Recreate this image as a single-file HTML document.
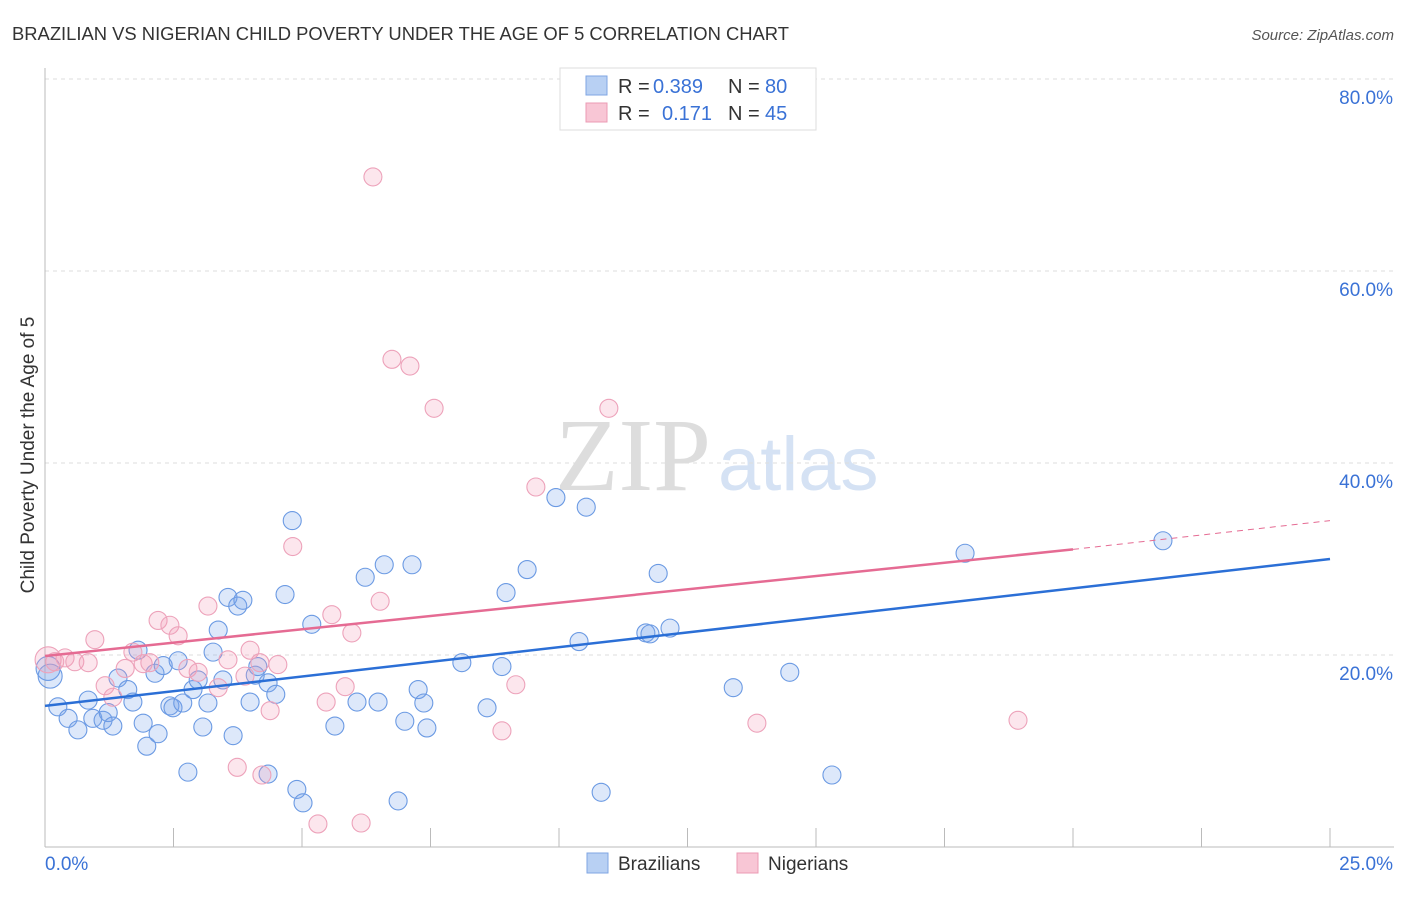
<!DOCTYPE html>
<html><head><meta charset="utf-8"><style>
body{margin:0;background:#fff;font-family:"Liberation Sans",sans-serif}
svg text{font-family:"Liberation Sans",sans-serif}
</style></head><body>
<svg id="chart" width="1406" height="892">
<text x="12" y="40" font-size="18.4" fill="#333">BRAZILIAN VS NIGERIAN CHILD POVERTY UNDER THE AGE OF 5 CORRELATION CHART</text>
<text x="1394" y="40" font-size="15" fill="#555" font-style="italic" text-anchor="end">Source: ZipAtlas.com</text>
<text x="555" y="490" font-size="104" fill="#ddd" font-family="Liberation Serif" style="font-family:'Liberation Serif',serif">ZIP</text>
<text x="718" y="490" font-size="76" fill="#d5e2f4">atlas</text>
<g id="grid"></g><g id="axes"></g><g id="pts"></g><g id="lines"></g>
<text transform="translate(34,455) rotate(-90)" font-size="19" fill="#333" text-anchor="middle">Child Poverty Under the Age of 5</text>
<g>
<rect x="560" y="68" width="256" height="62" fill="#fff" stroke="#ddd"/>
<rect x="586" y="76" width="21" height="19" fill="#b8d0f3" stroke="#7fa6e3"/>
<rect x="586" y="103" width="21" height="19" fill="#f8c6d5" stroke="#eb9bb4"/>
<text x="618" y="93" font-size="20" fill="#333">R =</text>
<text x="653" y="93" font-size="20" fill="#3a72d6">0.389</text>
<text x="728" y="93" font-size="20" fill="#333">N =</text>
<text x="765" y="93" font-size="20" fill="#3a72d6">80</text>
<text x="618" y="120" font-size="20" fill="#333">R =</text>
<text x="662" y="120" font-size="20" fill="#3a72d6">0.171</text>
<text x="728" y="120" font-size="20" fill="#333">N =</text>
<text x="765" y="120" font-size="20" fill="#3a72d6">45</text>
</g>
<g>
<rect x="587" y="853" width="21" height="20" fill="#b8d0f3" stroke="#7fa6e3"/>
<text x="618" y="870" font-size="19" fill="#333">Brazilians</text>
<rect x="737" y="853" width="21" height="20" fill="#f8c6d5" stroke="#eb9bb4"/>
<text x="768" y="870" font-size="19" fill="#333">Nigerians</text>
</g>
</svg>
<script>
const blueX=[0.06,0.1,0.25,0.45,0.64,0.84,0.93,1.13,1.23,1.32,1.42,1.61,1.71,1.81,1.91,1.98,2.14,2.2,2.3,2.43,2.49,2.59,2.68,2.78,2.88,2.98,3.07,3.17,3.27,3.37,3.46,3.66,3.56,3.75,3.85,3.99,4.09,4.14,4.34,4.34,4.49,4.67,4.81,4.9,5.02,5.19,5.64,6.07,6.23,6.48,6.6,6.87,7.0,7.14,7.26,7.37,7.43,8.11,8.6,8.89,8.97,9.38,9.94,10.39,10.53,10.82,11.69,11.77,11.93,12.16,13.39,14.49,15.31,17.9,21.75];
const blueY=[18.6,17.8,14.6,13.4,12.2,15.3,13.4,13.2,14.0,12.6,17.6,16.4,15.1,20.5,12.9,10.5,18.1,11.8,18.9,14.7,14.5,19.4,15.0,7.8,16.4,17.4,12.5,15.0,20.3,22.6,17.4,11.6,26.0,25.1,25.7,15.1,17.9,18.8,17.1,7.6,15.9,26.3,34.0,6.0,4.6,23.2,12.6,15.1,28.1,15.1,29.4,4.8,13.1,29.4,16.4,15.0,12.4,19.2,14.5,18.8,26.5,28.9,36.4,21.4,35.4,5.7,22.3,22.2,28.5,22.8,16.6,18.2,7.5,30.6,31.9];
const pinkX=[0.06,0.19,0.39,0.58,0.84,0.97,1.17,1.32,1.56,1.71,1.91,2.04,2.2,2.43,2.59,2.78,2.98,3.17,3.37,3.56,3.89,3.99,4.18,4.38,4.53,4.22,3.74,4.82,5.31,5.47,5.58,5.84,5.97,6.15,6.38,6.52,6.75,7.1,7.57,8.89,9.16,9.55,10.97,13.85,18.93];
const pinkY=[19.5,19.3,19.7,19.3,19.2,21.6,16.8,15.6,18.6,20.3,19.1,19.2,23.6,23.1,22.0,18.6,18.2,25.1,16.6,19.5,17.8,20.5,19.2,14.2,19.0,7.5,8.3,31.3,2.4,15.1,24.2,16.7,22.3,2.5,69.8,25.6,50.8,50.1,45.7,12.1,16.9,37.5,45.7,12.9,13.2];
const blueLine=[14.7,30.0];
const pinkLine=[19.9,31.0,34.0];
const yTicks=[20,40,60,80];
const xTicks=[0,2.5,5,7.5,10,12.5,15,17.5,20,22.5,25];
const NS="http://www.w3.org/2000/svg";
const X=v=>45+v/25*1285, Y=v=>847-v/20*192;
function mk(tag,attrs,parent){const e=document.createElementNS(NS,tag);for(const k in attrs)e.setAttribute(k,attrs[k]);document.getElementById(parent).appendChild(e);return e;}
yTicks.forEach(t=>{
 const l=mk('line',{x1:45,x2:1394,y1:Y(t),y2:Y(t),stroke:'#ddd','stroke-dasharray':'4,4'},'grid');
 
 
 const tx=mk('text',{x:1393,y:Y(t)+25,'font-size':19,fill:'#3a72d6','text-anchor':'end'},'grid');tx.textContent=t.toFixed(1)+'%';
 
 
});
mk('line',{x1:45,x2:45,y1:68,y2:847,stroke:'#bbb'},'axes');
mk('line',{x1:45,x2:1394,y1:847,y2:847,stroke:'#bbb'},'axes');
xTicks.forEach((t,i)=>{if(i==0)return;const l=mk('line',{x1:X(t),x2:X(t),y1:828,y2:847,stroke:'#bbb'},'axes');
 
 });
[[0,'start',45],[25,'end',1393]].forEach(([v,a,x])=>{const t=mk('text',{x:x,y:870,'font-size':19,fill:'#3a72d6','text-anchor':a},'axes');t.textContent=v.toFixed(1)+'%';
 
 });
blueX.forEach((v,i)=>{const c=mk('circle',{cx:X(v),cy:Y(blueY[i]),r:i<2?12:9,fill:'rgba(120,165,235,0.25)',stroke:'#6b9ae3','stroke-width':1.1},'pts');
 
 });
pinkX.forEach((v,i)=>{const c=mk('circle',{cx:X(v),cy:Y(pinkY[i]),r:i<1?13:9,fill:'rgba(242,155,185,0.25)',stroke:'#eda2ba','stroke-width':1.1},'pts');
 
 });
const bl=mk('line',{x1:X(0),y1:Y(blueLine[0]),x2:X(25),y2:Y(blueLine[1]),stroke:'#2b6fd6','stroke-width':2.5},'lines');


const pl=mk('line',{x1:X(0),y1:Y(pinkLine[0]),x2:X(20),y2:Y(pinkLine[1]),stroke:'#e56b93','stroke-width':2.5},'lines');


const pd=mk('line',{x1:X(20),y1:Y(pinkLine[1]),x2:X(25),y2:Y(pinkLine[2]),stroke:'#e56b93','stroke-width':1,'stroke-dasharray':'6,5'},'lines');


</script>
</body></html>
